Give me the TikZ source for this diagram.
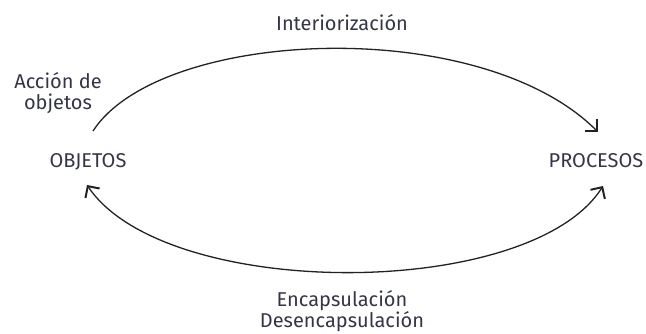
\documentclass[tikz,border=0pt]{standalone}
\usepackage{fontspec}
\setmainfont{Fira Sans}
\usetikzlibrary{arrows.meta}
\definecolor{txt}{HTML}{35354A}
\definecolor{ln}{HTML}{222222}
\begin{document}
\begin{tikzpicture}[x=1pt,y=1pt,
  lbl/.style={text=txt,font=\fontsize{20}{20}\selectfont,inner sep=0pt,align=center},
  arr/.style={draw=ln,line width=1.3pt}]
\useasboundingbox (0,0) rectangle (646,334);
\node[lbl,anchor=base] (obj) at (88,166) {OBJETOS};
\node[lbl,anchor=base] (proc) at (596,166) {PROCESOS};
\node[lbl,anchor=base] (inter) at (342,303) {Interiorización};
\node[lbl,font=\fontsize{20}{21}\selectfont] (acc) at (58,240.5) {Acción de\\objetos};
\node[lbl,font=\fontsize{20}{18.5}\selectfont] (enc) at (342,23) {Encapsulación\\Desencapsulación};
\coordinate (t1) at (93,203);
\coordinate (t2) at (598,202);
\coordinate (b1) at (87,149);
\coordinate (b2) at (603,148);
\draw[arr,-{Straight Barb[length=8.5pt,width=17pt,line width=2pt]}] (t1) .. controls (160,306) and (480,320) .. (t2);
\draw[arr,{Straight Barb[length=8.5pt,width=17pt,line width=2pt]}-{Straight Barb[length=8.5pt,width=17pt,line width=2pt]}] (b1) .. controls (165,33) and (530,33) .. (b2);
\end{tikzpicture}
\end{document}
